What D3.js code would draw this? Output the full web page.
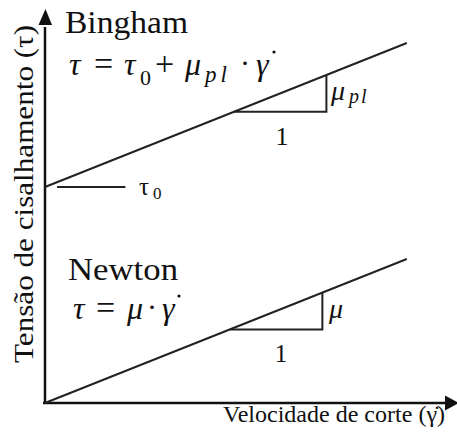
<!DOCTYPE html>
<html>
<head>
<meta charset="utf-8">
<script src="https://cdn.jsdelivr.net/npm/d3@7"></script>
<style>
  body { margin: 0; background: #fff; }
</style>
</head>
<body>
<div id="chart"></div>
<script>
// data (arbitrary units: shear rate on x, shear stress on y)
var binghamLine = [[0, 5.4], [9, 9.0]]
var newtonLine = [[0, 0], [9, 3.6]]
var tau0Tick = [[0.3, 5.4], [2.0, 5.4]]
var binghamTri = [[4.7, 7.28], [7.0, 7.28], [7.0, 8.2]]
var newtonTri = [[4.6, 1.84], [6.9, 1.84], [6.9, 2.76]]
var xAxisLabel = "Velocidade de corte (\u03B3\u0307)"
var yAxisLabel = "Tens\u00E3o de cisalhamento (\u03C4)"

var SERIF = "'Liberation Serif', 'Times New Roman', 'DejaVu Serif', serif"

function drawChart(target) { //{{{
  var width = 457, height = 437

  var xScale = d3.scaleLinear()
    .domain([0, 10])
    .range([45, 447])

  var yScale = d3.scaleLinear()
    .domain([0, 10])
    .range([403, 3])

  var svg = d3.select(target)
    .append("svg")
    .attr("width", width)
    .attr("height", height)

  var line = d3.line()
    .x(d => xScale(d[0]))
    .y(d => yScale(d[1]))

  // axes with arrow heads
  svg.append("line")
    .attr("x1", xScale(0)).attr("y1", yScale(0))
    .attr("x2", xScale(0)).attr("y2", yScale(9.4))
    .attr("stroke", "#111").attr("stroke-width", 2.5)
  svg.append("path")
    .attr("d", "M" + (xScale(0) - 6.5) + "," + yScale(9.45) + "L" + (xScale(0) + 0.5) + ",9L" + (xScale(0) + 7) + "," + yScale(9.45) + "Z")
    .attr("fill", "#111")

  svg.append("line")
    .attr("x1", xScale(0) - 2).attr("y1", yScale(0))
    .attr("x2", xScale(10)).attr("y2", yScale(0))
    .attr("stroke", "#111").attr("stroke-width", 2.5)
  svg.append("path")
    .attr("d", "M" + xScale(9.95) + "," + (yScale(0) - 7.5) + "L" + 459 + "," + yScale(0) + "L" + xScale(9.95) + "," + (yScale(0) + 7.5) + "Z")
    .attr("fill", "#111")

  // model lines
  svg.selectAll(".model")
      .data([binghamLine, newtonLine])
    .enter().append("path")
      .attr("class", "model")
      .attr("d", line)
      .attr("fill", "none")
      .attr("stroke", "#222")
      .attr("stroke-width", 2)

  svg.append("path")
    .attr("d", line(tau0Tick))
    .attr("stroke", "#222")
    .attr("stroke-width", 2)

  // slope triangles
  svg.selectAll(".tri")
      .data([binghamTri, newtonTri])
    .enter().append("path")
      .attr("class", "tri")
      .attr("d", line)
      .attr("fill", "none")
      .attr("stroke", "#222")
      .attr("stroke-width", 2)

  var put = function(x, y, s, size, italic) {
    return svg.append("text")
      .attr("x", x).attr("y", y)
      .attr("font-family", SERIF)
      .attr("font-size", size)
      .attr("font-style", italic ? "italic" : "normal")
      .attr("fill", "#111")
      .text(s)
  }
  var dot = function(x, y) {
    svg.append("circle").attr("cx", x).attr("cy", y).attr("r", 1.6).attr("fill", "#111")
  }

  // axis labels
  put(223, 422, xAxisLabel, 23)
    .attr("textLength", 222)
    .attr("lengthAdjust", "spacingAndGlyphs")

  put(0, 0, yAxisLabel, 28)
    .attr("transform", "translate(33,363) rotate(-90)")
    .attr("textLength", 338)
    .attr("lengthAdjust", "spacingAndGlyphs")

  // titles
  put(65, 33, "Bingham", 31)
    .attr("textLength", 123)
    .attr("lengthAdjust", "spacingAndGlyphs")
  put(68, 280, "Newton", 32)
    .attr("textLength", 110)
    .attr("lengthAdjust", "spacingAndGlyphs")

  // Bingham: tau = tau0 + mu_pl . gamma-dot
  put(69, 75, "\u03C4", 32, true)
  put(94, 75, "=", 34)
  put(124, 75, "\u03C4", 32, true)
  put(140, 85, "0", 22)
  put(155, 75, "+", 34)
  put(185, 75, "\u03BC", 32, true)
  put(205, 82, "pl", 23, true)
    .attr("letter-spacing", 4)
  put(240, 73, "\u00B7", 30)
  put(256, 75, "\u03B3", 32, true)
  dot(274, 52)

  // Newton: tau = mu . gamma-dot
  put(73, 319, "\u03C4", 32, true)
  put(96, 319, "=", 34)
  put(127, 319, "\u03BC", 32, true)
  put(147, 317, "\u00B7", 30)
  put(162, 319, "\u03B3", 32, true)
  dot(179, 296)

  // tau0 marker label
  put(139, 195, "\u03C4", 25)
  put(153, 199, "0", 17)

  // slope labels
  put(331, 100, "\u03BC", 28, true)
  put(349, 103, "pl", 20, true)
    .attr("letter-spacing", 2)
  put(329, 318, "\u03BC", 28, true)

  put(282, 145, "1", 26).attr("text-anchor", "middle")
  put(281, 362, "1", 25).attr("text-anchor", "middle")
} //}}}

drawChart("#chart")
</script>
</body>
</html>
